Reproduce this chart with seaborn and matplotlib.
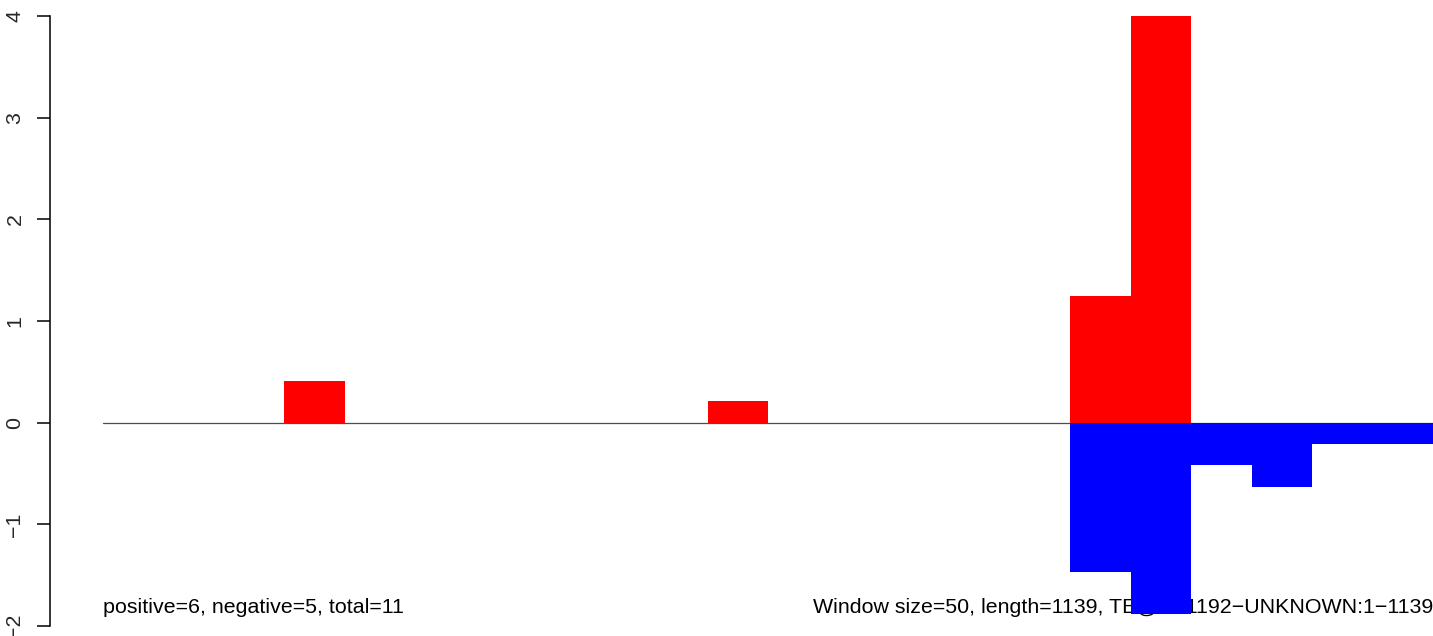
import numpy as np
import pandas as pd
import matplotlib
matplotlib.use("Agg")
import matplotlib.pyplot as plt
import seaborn as sns

# windows of 50 bp along the 1139 bp sequence
n_bins = 22
pos_bins = [3, 10, 16, 17]
pos_vals = [0.41, 0.21, 1.25, 4.0]
neg_bins = [16, 17, 18, 19, 20, 21]
neg_vals = [-1.47, -1.88, -0.42, -0.63, -0.21, -0.21]
y_ticks = [-2, -1, 0, 1, 2, 3, 4]

left_text = "positive=6, negative=5, total=11"
right_text = "Window size=50, length=1139, TE@R=1192\u2212UNKNOWN:1\u22121139"

bins = list(range(n_bins))
pos = np.zeros(n_bins)
pos[pos_bins] = pos_vals
neg = np.zeros(n_bins)
neg[neg_bins] = neg_vals
df = pd.DataFrame({"bin": bins, "pos": pos, "neg": neg})

sns.set_style("white")
plt.rcParams["font.family"] = ["Liberation Sans", "DejaVu Sans"]

W, H = 1433, 636
fig = plt.figure(figsize=(W / 100, H / 100), dpi=100)
ax = fig.add_axes([50 / W, 10 / H, (W - 50) / W, 610 / H])

ax.plot([-0.5, n_bins - 0.5], [0, 0], color="#4d4d4d", lw=0.9, zorder=1)
ax.text(-0.5, -1.87, left_text, ha="left", va="baseline", fontsize=15.4, color="black", zorder=2)
ax.text(n_bins - 0.5, -1.87, right_text, ha="right", va="baseline", fontsize=15.4, color="black", zorder=2)

sns.barplot(data=df, x="bin", y="pos", order=bins, color="#ff0000", saturation=1,
            width=1, errorbar=None, linewidth=0, edgecolor="none", ax=ax, zorder=3)
sns.barplot(data=df, x="bin", y="neg", order=bins, color="#0000ff", saturation=1,
            width=1, errorbar=None, linewidth=0, edgecolor="none", ax=ax, zorder=3)

ax.set_xlim(-0.5 - 0.877, n_bins - 0.5)
ax.set_ylim(-2, 4)
ax.set_yticks(y_ticks)
ax.set_yticklabels([str(t).replace("-", "\u2212") for t in y_ticks], rotation=90, va="center",
                   fontsize=15.4)
ax.tick_params(axis="y", length=9.4, width=1.1, pad=9, left=True, color="black")
ax.set_xticks([])
ax.set_xlabel("")
ax.set_ylabel("")
for s in ["top", "right", "bottom"]:
    ax.spines[s].set_visible(False)
ax.spines["left"].set_color("black")
ax.spines["left"].set_linewidth(1.1)
ax.patch.set_alpha(0)

fig.savefig("out.png", dpi=100)
